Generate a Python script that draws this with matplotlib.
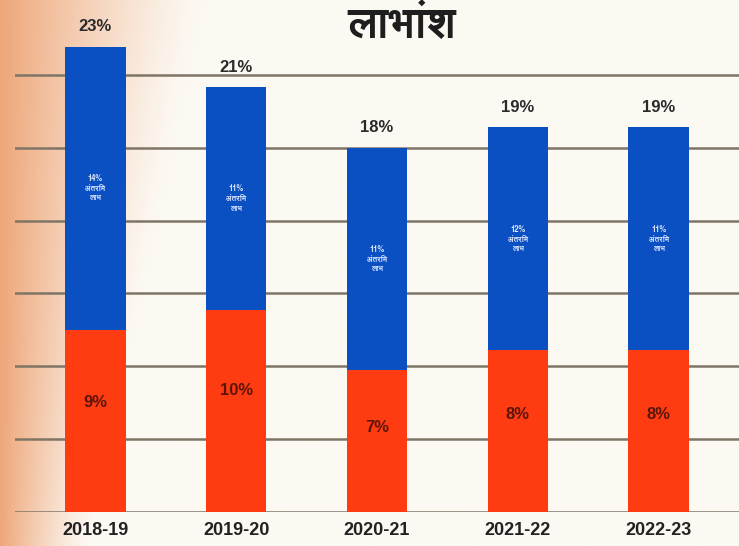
import numpy as np
import matplotlib
matplotlib.use("Agg")
from matplotlib import pyplot as plt

# data
years = ['2018-19', '2019-20', '2020-21', '2021-22', '2022-23']
total = [23, 21, 18, 19, 19]
final_part = [9, 10, 7, 8, 8]          # red part
interim_labels = ['14%', '11%', '11%', '12%', '11%']  # small text in blue part
total_labels = ['23%', '21%', '18%', '19%', '19%']
final_labels = ['9%', '10%', '7%', '8%', '8%']

hindi = ['FreeSans', 'DejaVu Sans']
narrow = ['Liberation Sans Narrow', 'Liberation Sans', 'DejaVu Sans']

blue = '#0b50c2'
red = '#ff3b12'

fig = plt.figure(figsize=(7.39, 5.46), dpi=100)
fig.patch.set_facecolor('#fcf9f3')

# warm tint on the left side, like the photo
bg = fig.add_axes([0, 0, 1, 1], zorder=-1)
gx = np.linspace(0, 1, 400)
gy = np.linspace(0, 1, 300)
GX, GY = np.meshgrid(gx, gy)
tint = np.clip(1 - GX / (0.12 + 0.16 * GY), 0, 1) ** 1.3
cmap = matplotlib.colors.LinearSegmentedColormap.from_list('w', ['#fcf9f3', '#eea77a'])
bg.imshow(tint, aspect='auto', cmap=cmap, extent=[0, 1, 0, 1], origin='lower', vmin=0, vmax=1)
bg.axis('off')

ax = fig.add_axes([15 / 739, 34 / 546, 724 / 739, 512 / 546])
ax.patch.set_alpha(0)
x = np.arange(len(years))
interim_part = np.array(total) - np.array(final_part)

ax.bar(x, final_part, width=0.43, color=red, zorder=3)
ax.bar(x, interim_part, width=0.43, bottom=final_part, color=blue, zorder=3)

ax.set_xlim(-0.57, 4.57)
ax.set_ylim(0, 25.3)
ax.set_yticks(np.arange(0, 25, 3.6))
ax.yaxis.grid(True, color='#7f7566', lw=1.8, zorder=0)
ax.tick_params(left=False, labelleft=False, bottom=False)
for s in ax.spines.values():
    s.set_visible(False)

ax.set_xticks(x)
ax.set_xticklabels(years, family=narrow, fontweight='bold', fontsize=13, color='#222222')
ax.tick_params(axis='x', pad=4)

for i in x:
    ax.annotate(total_labels[i], (i, total[i]), xytext=(0, 9), textcoords='offset points',
                ha='center', va='bottom', family=narrow, fontweight='bold', fontsize=12,
                color='#2a2a2a')
    ax.text(i, final_part[i] * 0.6, final_labels[i], ha='center', va='center',
            family=narrow, fontweight='bold', fontsize=12, color='#5a1608', zorder=4)
    ax.text(i, final_part[i] + interim_part[i] * 0.5, interim_labels[i] + '\nअंतरिम\nलाभ',
            ha='center', va='center', family=hindi, fontsize=5.5, fontweight='bold',
            color='#dfe8ff', linespacing=1.1, zorder=4)

fig.text(402 / 739, 1 - 26 / 546, 'लाभांश', ha='center', va='center',
         family=hindi, fontsize=31, fontweight='bold', color='#1e1e1e')

fig.savefig('out.png', dpi=100, facecolor=fig.get_facecolor())
